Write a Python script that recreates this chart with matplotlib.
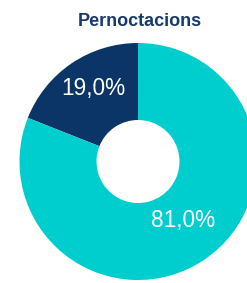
import numpy as np
import matplotlib
matplotlib.use("Agg")
import matplotlib.pyplot as plt

title = "Pernoctacions"
categories = ["Navy", "Teal"]
values = [19.0, 81.0]
labels = ["19,0%", "81,0%"]
colors = ["#0A3566", "#00CDCD"]

W, H = 247, 283
fig = plt.figure(figsize=(W / 100, H / 100), dpi=100)
ax = fig.add_axes([0, 0, 1, 1])

cx, cy, R = 138, H - 161.5, 118.5
hole = 41.5
wedges, _ = ax.pie(values, colors=colors, startangle=90, counterclock=True,
                   center=(cx, cy), radius=R, frame=True,
                   wedgeprops=dict(width=R - hole, linewidth=0))
ax.set_xlim(0, W)
ax.set_ylim(0, H)
ax.set_aspect("equal")
ax.axis("off")

dists = [0.725, 0.625]
angle_adj = [-3, 3.6]
for w, lab, d, da in zip(wedges, labels, dists, angle_adj):
    ang = np.deg2rad((w.theta1 + w.theta2) / 2 + da)
    ax.text(cx + d * R * np.cos(ang), cy + d * R * np.sin(ang), lab,
            ha="center", va="center", color="white", fontsize=16.3,
            family="Liberation Sans")

ax.text(140, H - 22, title, ha="center", va="center", fontsize=13,
        fontweight="bold", color="#173A6C", family="Liberation Sans")

fig.savefig("out.png", dpi=100)
